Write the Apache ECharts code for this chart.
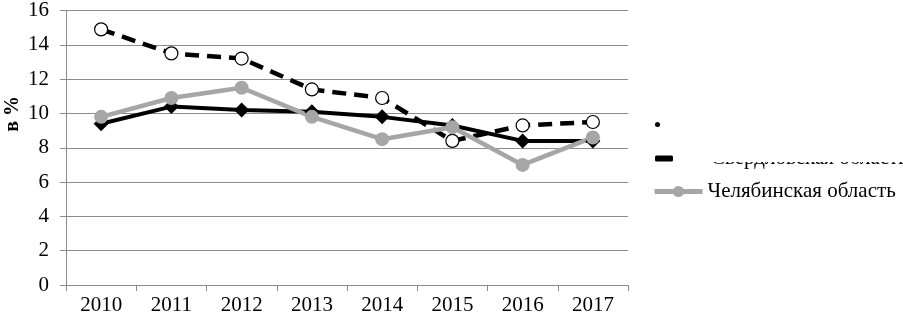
<!DOCTYPE html>
<html>
<head>
<meta charset="utf-8">
<script src="https://cdn.jsdelivr.net/npm/echarts@6/dist/echarts.min.js"></script>
<style>
  html, body { margin: 0; padding: 0; background: #fff; }
  #chart { width: 903px; height: 320px; }
</style>
</head>
<body>
<div id="chart"></div>
<script>
// годы
const years = ['2010', '2011', '2012', '2013', '2014', '2015', '2016', '2017']
// ряд без подписи (чёрная линия с ромбами)
const seriesBlack = [9.4, 10.4, 10.2, 10.1, 9.8, 9.3, 8.4, 8.4]
// Свердловская область (пунктир)
const seriesSverdl = [14.9, 13.5, 13.2, 11.4, 10.9, 8.4, 9.3, 9.5]
// Челябинская область (серая)
const seriesChel = [9.8, 10.9, 11.5, 9.8, 8.5, 9.2, 7.0, 8.6]
const yTicks = { min: 0, max: 16, interval: 2 }

const nameBlack = 'Ряд 1'
const nameSverdl = 'Свердловская область'
const nameChel = 'Челябинская область'

const serif = '"Liberation Serif", "DejaVu Serif", serif'
const gridColor = '#8c8c8c'

const myChart = echarts.init(document.getElementById('chart'))
const option = {
  animation: false,
  backgroundColor: '#fff',
  grid: {
    left: 66,
    right: 275,
    top: 8,
    bottom: 35
  },
  xAxis: {
    type: 'category',
    data: years,
    boundaryGap: true,
    axisLine: { lineStyle: { color: gridColor, width: 1 } },
    axisTick: { show: true, length: 6, lineStyle: { color: gridColor } },
    axisLabel: { color: '#000', fontFamily: serif, fontSize: 21, margin: 10 }
  },
  yAxis: {
    type: 'value',
    min: yTicks.min,
    max: yTicks.max,
    interval: yTicks.interval,
    axisLine: { show: true, lineStyle: { color: gridColor, width: 1 } },
    axisTick: { show: true, length: 6, lineStyle: { color: gridColor } },
    axisLabel: { color: '#000', fontFamily: serif, fontSize: 21, margin: 17 },
    splitLine: { lineStyle: { color: gridColor, width: 1 } }
  },
  // три отдельные легенды, чтобы повторить обрезанную легенду оригинала
  legend: [
    {
      data: [{ name: nameBlack, icon: 'circle' }],
      left: 650,
      top: 117,
      itemWidth: 5,
      itemHeight: 5,
      formatter: () => '',
      selectedMode: false
    },
    {
      data: [{ name: nameSverdl, icon: 'roundRect', itemStyle: { color: '#000', borderWidth: 0 } }],
      left: 650,
      top: 143,
      itemWidth: 18,
      itemHeight: 6,
      textStyle: { fontFamily: serif, fontSize: 21, color: '#000', padding: [0, 0, 0, 33] },
      selectedMode: false
    },
    {
      data: [nameChel],
      left: 647,
      top: 176,
      itemWidth: 48,
      itemHeight: 14,
      lineStyle: { width: 5 },
      textStyle: { fontFamily: serif, fontSize: 21, color: '#000' },
      selectedMode: false
    }
  ],
  graphic: [
    {
      type: 'text',
      left: 3,
      top: 96,
      rotation: Math.PI / 2,
      style: {
        text: 'в %',
        font: 'bold 20px ' + serif,
        fill: '#000'
      }
    },
    {
      // белая плашка закрывает верх подписи, как в оригинале
      type: 'rect',
      z: 100,
      shape: { x: 700, y: 138, width: 203, height: 24 },
      style: { fill: '#fff' }
    }
  ],
  series: [
    {
      name: nameBlack,
      type: 'line',
      data: seriesBlack,
      symbol: 'diamond',
      symbolSize: 15,
      lineStyle: { color: '#000', width: 4 },
      itemStyle: { color: '#000' }
    },
    {
      name: nameSverdl,
      type: 'line',
      data: seriesSverdl,
      symbol: 'circle',
      symbolSize: 13,
      lineStyle: { color: '#000', width: 4.5, type: [14, 8] },
      itemStyle: { color: '#fff', borderColor: '#000', borderWidth: 1.2 }
    },
    {
      name: nameChel,
      type: 'line',
      data: seriesChel,
      symbol: 'circle',
      symbolSize: 14,
      lineStyle: { color: '#a6a6a6', width: 4.5 },
      itemStyle: { color: '#a6a6a6' }
    }
  ]
}
myChart.setOption(option)
</script>
</body>
</html>
